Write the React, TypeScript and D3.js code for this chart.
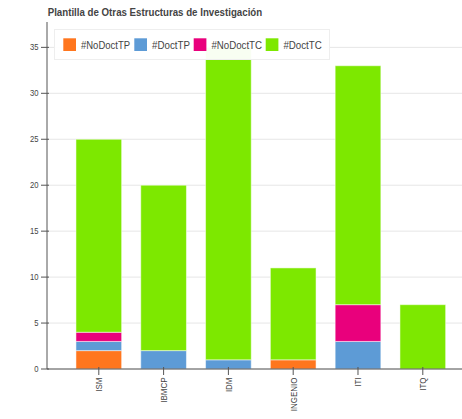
import React from "react";
import * as d3 from "d3";

const categories = ["ISM", "IBMCP", "IDM", "INGENIO", "ITI", "ITQ"];
const seriesNames = ["#NoDoctTP", "#DoctTP", "#NoDoctTC", "#DoctTC"];
const noDoctTP = [2, 0, 0, 1, 0, 0];
const doctTP = [1, 2, 1, 0, 3, 0];
const noDoctTC = [1, 0, 0, 0, 4, 0];
const doctTC = [21, 18, 34, 10, 26, 7];
const colors = ["#ff761e", "#5d9bd6", "#e9007c", "#7de800"];
const yTicks = [0, 5, 10, 15, 20, 25, 30, 35];
const title = "Plantilla de Otras Estructuras de Investigación";

const W = 462;
const H = 419;
const left = 47;
const right = 462;
const top = 22;
const bottom = 369;

export default function App() {
  const rows = categories.map((c, i) => ({
    cat: c,
    "#NoDoctTP": noDoctTP[i],
    "#DoctTP": doctTP[i],
    "#NoDoctTC": noDoctTC[i],
    "#DoctTC": doctTC[i],
  }));
  const stacked = d3.stack<any>().keys(seriesNames)(rows);
  const x = d3
    .scaleBand<string>()
    .domain(categories)
    .range([46.8, 474.8])
    .paddingInner(0.295)
    .paddingOuter(0.45);
  const y = d3.scaleLinear().domain([0, 37.76]).range([bottom, top]);
  const font = "Helvetica, 'Liberation Sans', Arial, sans-serif";

  const legendX = [63.3, 134.3, 193.7, 265.7];
  const legendW = [49, 38, 50.6, 38.4];

  return (
    <svg
      width={W}
      height={H}
      style={{ position: "absolute", left: 0, top: 0, display: "block" }}
      fontFamily={font}
    >
      <rect width={W} height={H} fill="#fff" />
      <text
        x={47.7}
        y={15.5}
        fontSize={10}
        fontWeight="bold"
        fill="#444"
        textLength={214.5}
        lengthAdjust="spacingAndGlyphs"
      >
        {title}
      </text>
      {yTicks.map((t) => (
        <line
          key={"g" + t}
          x1={left}
          x2={right}
          y1={y(t)}
          y2={y(t)}
          stroke="#e6e6e6"
          strokeWidth={1}
        />
      ))}
      {stacked.map((s, si) =>
        s.map((d, i) =>
          d[1] - d[0] > 0 ? (
            <rect
              key={si + "-" + i}
              x={x(categories[i])}
              y={y(d[1])}
              width={x.bandwidth()}
              height={y(d[0]) - y(d[1])}
              fill={colors[si]}
              stroke="#ffffff"
              strokeOpacity={0.5}
              strokeWidth={1}
            />
          ) : null
        )
      )}
      <line x1={left} x2={left} y1={top} y2={bottom} stroke="#555" strokeWidth={1} />
      <line x1={left} x2={right} y1={bottom} y2={bottom} stroke="#555" strokeWidth={1} />
      {yTicks.map((t) => (
        <g key={"t" + t} transform={`translate(0,${y(t)})`}>
          <line x1={left - 6} x2={left + 2} stroke="#555" />
          <text
            transform="translate(38.5,0) scale(0.9,1)"
            dy="0.35em"
            textAnchor="end"
            fontSize={8.5}
            fill="#444"
          >
            {t}
          </text>
        </g>
      ))}
      {categories.map((c) => {
        const cx = (x(c) as number) + x.bandwidth() / 2;
        return (
          <g key={"x" + c}>
            <line x1={cx} x2={cx} y1={bottom - 2} y2={bottom + 6} stroke="#555" />
            <text
              transform={`translate(${cx},${bottom + 8.5}) rotate(-90) scale(0.84,1)`}
              textAnchor="end"
              dy="0.35em"
              fontSize={9.5}
              fill="#444"
            >
              {c}
            </text>
          </g>
        );
      })}
      <rect
        x={54.5}
        y={29.5}
        width={275}
        height={30}
        fill="#fff"
        fillOpacity={0.95}
        stroke="#eeeeee"
      />
      {seriesNames.map((n, i) => (
        <g key={"l" + n}>
          <rect x={legendX[i]} y={38.3} width={12.7} height={12.7} fill={colors[i]} />
          <text
            x={legendX[i] + 17.7}
            y={44.7}
            dy="0.35em"
            fontSize={11}
            fill="#444"
            textLength={legendW[i]}
            lengthAdjust="spacingAndGlyphs"
          >
            {n}
          </text>
        </g>
      ))}
    </svg>
  );
}
